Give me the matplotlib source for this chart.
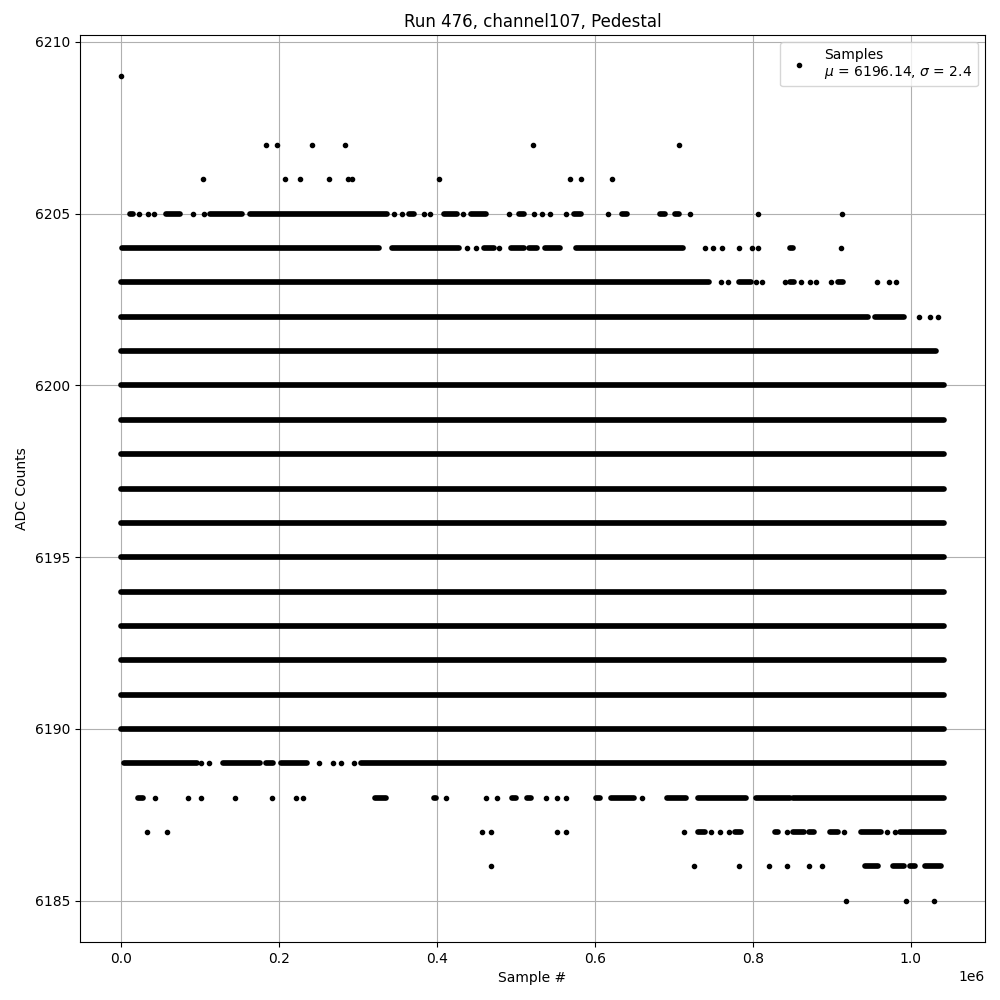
import numpy as np
import matplotlib
matplotlib.use('Agg')
import matplotlib.pyplot as plt

# x values in units of 1e6 samples
# single samples per ADC level
pts_6209 = [0.0]
pts_6207 = [0.183, 0.198, 0.242, 0.283, 0.521, 0.706]
pts_6206 = [0.104, 0.208, 0.227, 0.263, 0.287, 0.293, 0.402, 0.568, 0.583, 0.622]
pts_6205 = [0.023, 0.034, 0.042, 0.091, 0.105, 0.345, 0.356, 0.383, 0.391, 0.433,
            0.491, 0.523, 0.533, 0.543, 0.563, 0.616, 0.721, 0.806, 0.913]
pts_6204 = [0.438, 0.449, 0.479, 0.739, 0.750, 0.761, 0.783, 0.799, 0.806, 0.912]
pts_6203 = [0.760, 0.769, 0.804, 0.812, 0.841, 0.861, 0.872, 0.880, 0.899, 0.957,
            0.973, 0.982]
pts_6202 = [1.011, 1.024, 1.034]
pts_6189 = [0.101, 0.111, 0.250, 0.268, 0.279, 0.295]
pts_6188 = [0.043, 0.085, 0.101, 0.144, 0.191, 0.221, 0.230, 0.412, 0.462, 0.476,
            0.538, 0.552, 0.564, 0.660]
pts_6187 = [0.033, 0.058, 0.457, 0.468, 0.552, 0.564, 0.713, 0.747, 0.758, 0.770,
            0.843, 0.915, 0.970, 0.980]
pts_6186 = [0.468, 0.726, 0.782, 0.821, 0.843, 0.871, 0.888]
pts_6185 = [0.918, 0.994, 1.029]

# stretches where samples are packed so close they form a bar (start, end)
runs_6205 = [(0.011, 0.015), (0.057, 0.074), (0.112, 0.153), (0.163, 0.337),
             (0.365, 0.371), (0.409, 0.426), (0.443, 0.462), (0.504, 0.510),
             (0.573, 0.582), (0.634, 0.641), (0.683, 0.689), (0.701, 0.707)]
runs_6204 = [(0.001, 0.327), (0.343, 0.428), (0.460, 0.472), (0.494, 0.510),
             (0.516, 0.527), (0.537, 0.556), (0.576, 0.712), (0.847, 0.851)]
runs_6203 = [(0.0, 0.744), (0.782, 0.798), (0.847, 0.852), (0.908, 0.914)]
runs_6202 = [(0.0, 0.946), (0.955, 0.992)]
runs_6201 = [(0.0, 1.032)]
full_levels = [6190, 6191, 6192, 6193, 6194, 6195, 6196, 6197, 6198, 6199, 6200]
full_run = (0.0, 1.042)
runs_6189 = [(0.003, 0.096), (0.129, 0.176), (0.184, 0.192), (0.203, 0.236),
             (0.304, 1.042)]
runs_6188 = [(0.021, 0.028), (0.322, 0.336), (0.396, 0.399), (0.495, 0.500),
             (0.514, 0.519), (0.601, 0.607), (0.620, 0.649), (0.691, 0.716),
             (0.731, 0.792), (0.804, 0.847), (0.851, 1.042)]
runs_6187 = [(0.731, 0.739), (0.778, 0.785), (0.828, 0.832), (0.851, 0.865),
             (0.871, 0.878), (0.898, 0.908), (0.937, 0.962), (0.986, 1.042)]
runs_6186 = [(0.942, 0.958), (0.977, 0.992), (0.999, 1.005), (1.018, 1.038)]

mu = 6196.14
sigma = 2.4

level_pts = {6209: pts_6209, 6207: pts_6207, 6206: pts_6206, 6205: pts_6205,
             6204: pts_6204, 6203: pts_6203, 6202: pts_6202, 6189: pts_6189,
             6188: pts_6188, 6187: pts_6187, 6186: pts_6186, 6185: pts_6185}
level_runs = {6205: runs_6205, 6204: runs_6204, 6203: runs_6203, 6202: runs_6202,
              6201: runs_6201, 6189: runs_6189, 6188: runs_6188, 6187: runs_6187,
              6186: runs_6186}
for lvl in full_levels:
    level_runs[lvl] = [full_run]

fig, ax = plt.subplots(figsize=(10, 10), dpi=100)

for lvl, rr in level_runs.items():
    x0 = np.array([r[0] for r in rr]) * 1e6
    x1 = np.array([r[1] for r in rr]) * 1e6
    ax.hlines(np.full(len(rr), lvl), x0, x1, colors='k', linewidth=4.1,
              capstyle='round')

xs = []
ys = []
for lvl, pp in level_pts.items():
    xs += [p * 1e6 for p in pp]
    ys += [lvl] * len(pp)
ax.plot(xs, ys, 'k.', label='Samples\n$\\mu$ = %.2f, $\\sigma$ = %.1f' % (mu, sigma))

ax.set_title('Run 476, channel107, Pedestal')
ax.set_xlabel('Sample #')
ax.set_ylabel('ADC Counts')
ax.grid(True)
ax.legend(loc='upper right')

plt.subplots_adjust(left=0.08, right=0.985, top=0.965, bottom=0.058)
plt.savefig('out.png')
